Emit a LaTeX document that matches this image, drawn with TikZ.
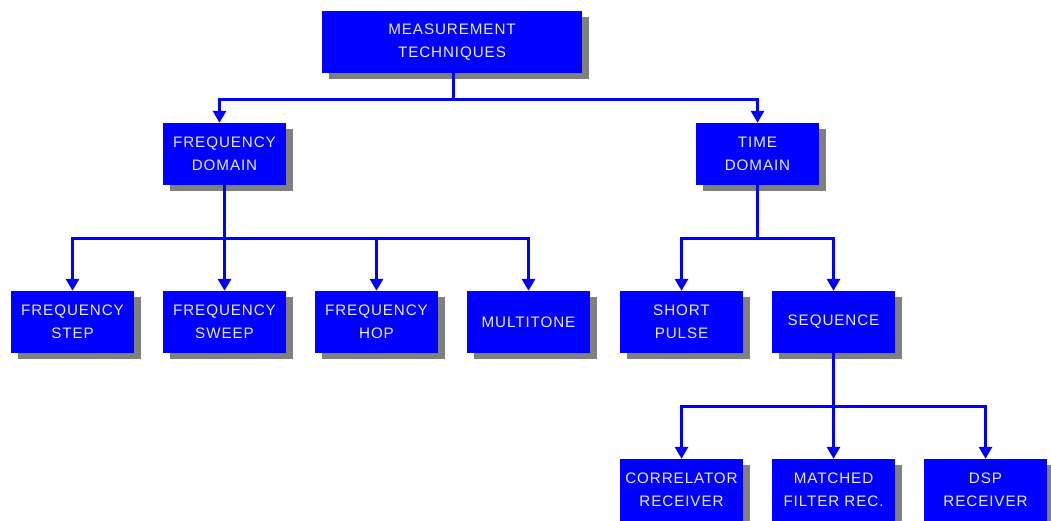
\documentclass[tikz,border=0pt]{standalone}
\usepackage{fontspec}
\setmainfont[LetterSpace=6]{Liberation Sans}
\usetikzlibrary{arrows.meta,shadows}
\definecolor{boxblue}{RGB}{0,0,255}
\definecolor{shadowgray}{RGB}{128,128,128}
\definecolor{labelwhite}{RGB}{232,232,255}
\tikzset{
  box/.style={rectangle, fill=boxblue, minimum width=123pt, minimum height=62pt,
    inner sep=0pt, align=center, text=labelwhite,
    font=\fontsize{15.2}{23}\selectfont,
    drop shadow={shadow xshift=7pt, shadow yshift=-6pt, fill=shadowgray, opacity=1}},
  wire/.style={draw=boxblue, line width=3pt},
  feed/.style={wire, -{Triangle[width=13pt,length=12pt]}}
}
\begin{document}
\begin{tikzpicture}[x=1pt,y=-1pt]
\useasboundingbox (0,0) rectangle (1051,521);
\clip (0,0) rectangle (1051,521);
% top level
\node[box, minimum width=260pt] (root) at (452,42) {MEASUREMENT\\TECHNIQUES};
% domains
\node[box] (fd) at (224.5,154) {FREQUENCY\\DOMAIN};
\node[box] (td) at (757.5,154) {TIME\\DOMAIN};
% frequency-domain methods
\node[box] (fstep) at (72.5,322) {FREQUENCY\\STEP};
\node[box] (fsweep) at (224.5,322) {FREQUENCY\\SWEEP};
\node[box] (fhop) at (376.5,322) {FREQUENCY\\HOP};
\node[box] (mtone) at (528.5,322) {MULTITONE};
% time-domain methods
\node[box] (spulse) at (681.5,322) {SHORT\\PULSE};
\node[box] (seq) at (833.5,322) {SEQUENCE};
% receivers
\node[box] (corr) at (681.5,490) {CORRELATOR\\RECEIVER};
\node[box] (mfr) at (833.5,490) {MATCHED\\FILTER REC.};
\node[box] (dsp) at (985.5,490) {DSP\\RECEIVER};
% connectors
\draw[wire] ([xshift=1pt]root.south) -- ++(0,26) coordinate (j1);
\draw[feed] (j1) -| ([xshift=-5pt]fd.north);
\draw[feed] (j1) -| (td.north);
\draw[wire] (fd.south) -- ++(0,53) coordinate (j2);
\draw[feed] (j2) -| (fstep.north);
\draw[feed] (j2) -- (fsweep.north);
\draw[feed] (j2) -| (fhop.north);
\draw[feed] (j2) -| (mtone.north);
\draw[wire] (td.south) -- ++(0,53) coordinate (j3);
\draw[feed] (j3) -| (spulse.north);
\draw[feed] (j3) -| (seq.north);
\draw[wire] (seq.south) -- ++(0,53) coordinate (j4);
\draw[feed] (j4) -| (corr.north);
\draw[feed] (j4) -- (mfr.north);
\draw[feed] (j4) -| (dsp.north);
\end{tikzpicture}
\end{document}
